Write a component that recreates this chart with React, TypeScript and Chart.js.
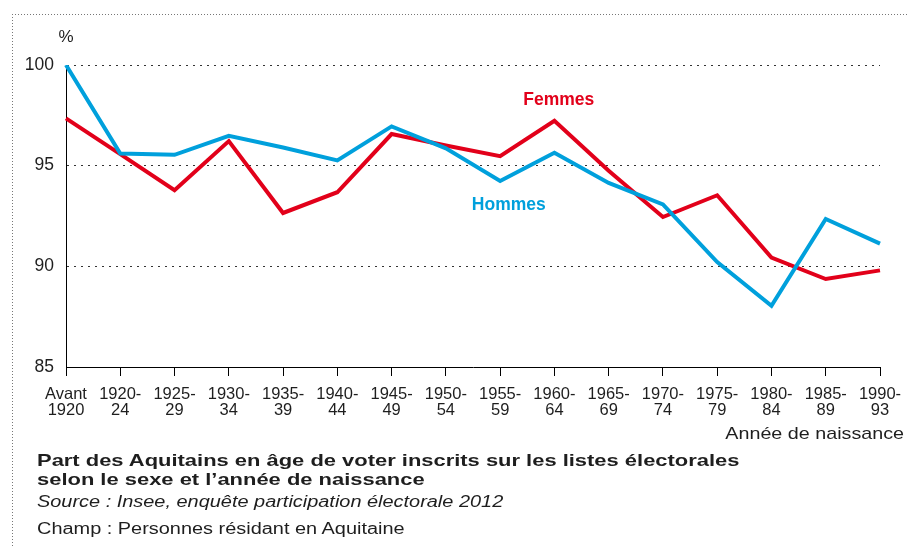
import { useEffect, useRef } from "react";
import { Chart, registerables } from "chart.js";

Chart.register(...registerables);

const categories: string[][] = [
  ["Avant", "1920"], ["1920-", "24"], ["1925-", "29"], ["1930-", "34"],
  ["1935-", "39"], ["1940-", "44"], ["1945-", "49"], ["1950-", "54"],
  ["1955-", "59"], ["1960-", "64"], ["1965-", "69"], ["1970-", "74"],
  ["1975-", "79"], ["1980-", "84"], ["1985-", "89"], ["1990-", "93"],
];
const femmes = [97.35, 95.57, 93.78, 96.22, 92.65, 93.68, 96.57, 96.0, 95.47, 97.23, 94.75, 92.45, 93.53, 90.43, 89.37, 89.8];
const hommes = [100.0, 95.6, 95.54, 96.48, 95.9, 95.26, 96.95, 95.86, 94.24, 95.64, 94.14, 93.08, 90.21, 88.04, 92.35, 91.13];
const yMin = 85;
const yMax = 100;
const yStep = 5;

const RED = "rgb(226,0,26)";
const BLUE = "rgb(0,160,220)";
const TEXT = "#1e1e1e";
const FONT = '"Liberation Sans", Arial, Helvetica, sans-serif';

const labelsPlugin = {
  id: "seriesLabels",
  afterDatasetsDraw(chart: any) {
    const { ctx, chartArea, scales } = chart;
    const x = scales.x;
    const y = scales.y;
    ctx.save();
    ctx.textBaseline = "alphabetic";
    ctx.textAlign = "center";
    ctx.font = `bold 17.5px ${FONT}`;
    ctx.fillStyle = RED;
    ctx.fillText("Femmes", x.getPixelForValue(9.08), y.getPixelForValue(98.0));
    ctx.fillStyle = BLUE;
    ctx.fillText("Hommes", x.getPixelForValue(8.16), y.getPixelForValue(92.82));
    ctx.fillStyle = TEXT;
    ctx.font = `17px ${FONT}`;
    ctx.fillText("%", chartArea.left, chartArea.top - 23);
    ctx.restore();
    ctx.save();
    ctx.fillStyle = TEXT;
    ctx.textBaseline = "alphabetic";
    ctx.textAlign = "right";
    ctx.font = `17px ${FONT}`;
    const sx = 1.16;
    ctx.scale(sx, 1);
    ctx.fillText("Année de naissance", (chart.width - 3) / sx, chartArea.bottom + 72);
    ctx.restore();
  },
};

export default function App() {
  const ref = useRef<HTMLCanvasElement | null>(null);
  useEffect(() => {
    if (!ref.current) return;
    const chart = new Chart(ref.current, {
      type: "line",
      data: {
        labels: categories,
        datasets: [
          { label: "Hommes", data: hommes, borderColor: BLUE, backgroundColor: BLUE },
          { label: "Femmes", data: femmes, borderColor: RED, backgroundColor: RED },
        ],
      },
      options: {
        animation: false,
        responsive: false,
        maintainAspectRatio: false,
        devicePixelRatio: 1,
        layout: { padding: { left: 0, right: 27, top: 65, bottom: 0 } },
        plugins: { legend: { display: false }, tooltip: { enabled: false } },
        elements: {
          point: { radius: 0, hoverRadius: 0 },
          line: { borderWidth: 4, tension: 0, borderJoinStyle: "miter", fill: false },
        },
        scales: {
          x: {
            type: "category",
            offset: false,
            grid: { display: true, drawOnChartArea: false, drawTicks: true, tickLength: 9, color: "#000", lineWidth: 1 },
            border: { display: true, color: "#000", width: 1 },
            ticks: {
              autoSkip: false, maxRotation: 0, minRotation: 0, padding: 10, color: TEXT,
              font: { family: FONT, size: 16.5, lineHeight: 1.0 },
            },
            afterFit: (s: any) => { s.height = 546 - 367; s.paddingLeft = 0; s.paddingRight = 0; },
          },
          y: {
            min: yMin, max: yMax,
            ticks: { stepSize: yStep, padding: 12, color: TEXT, font: { family: FONT, size: 17.5 } },
            grid: {
              drawTicks: false, lineWidth: 1,
              color: (c: any) => (c.tick && c.tick.value === yMin ? "rgba(0,0,0,0)" : "#333"),
            },
            border: { display: true, color: "#000", width: 1, dash: [2, 5] },
            afterFit: (s: any) => { s.width = 66; },
          },
        },
      },
      plugins: [labelsPlugin],
    });
    return () => chart.destroy();
  }, []);

  const textBase: any = { position: "absolute", left: 37, whiteSpace: "nowrap", color: TEXT, fontFamily: FONT, transformOrigin: "left top" };
  return (
    <div style={{ position: "absolute", left: 0, top: 0, width: 907, height: 546, overflow: "hidden", background: "#fff" }}>
      <div style={{ position: "absolute", left: 12, top: 14, width: 895, height: 1, background: "repeating-linear-gradient(to right, #777 0 1px, transparent 1px 3px)" }} />
      <div style={{ position: "absolute", left: 12, top: 14, width: 1, height: 532, background: "repeating-linear-gradient(to bottom, #777 0 1px, transparent 1px 3px)" }} />
      <canvas ref={ref} width={907} height={546} style={{ position: "absolute", left: 0, top: 0, width: 907, height: 546 }} />
      <div style={{ ...textBase, top: 452, fontSize: 17, lineHeight: "17px", fontWeight: "bold", transform: "scaleX(1.29)" }}>
        Part des Aquitains en âge de voter inscrits sur les listes électorales
      </div>
      <div style={{ ...textBase, top: 471, fontSize: 17, lineHeight: "17px", fontWeight: "bold", transform: "scaleX(1.29)" }}>
        selon le sexe et l’année de naissance
      </div>
      <div style={{ ...textBase, top: 494, fontSize: 16, lineHeight: "16px", fontStyle: "italic", transform: "scaleX(1.245)" }}>
        Source : Insee, enquête participation électorale 2012
      </div>
      <div style={{ ...textBase, top: 521, fontSize: 16, lineHeight: "16px", transform: "scaleX(1.245)" }}>
        Champ : Personnes résidant en Aquitaine
      </div>
    </div>
  );
}
